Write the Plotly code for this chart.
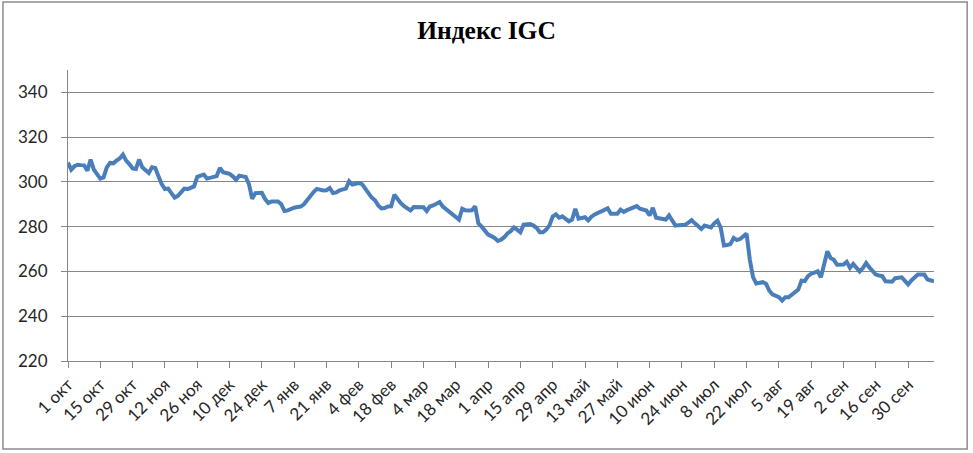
import plotly.graph_objects as go
import pandas as pd

title_text = "Индекс IGC"
start_date = "2012-10-01"
month_names = ["янв", "фев", "мар", "апр", "май", "июн",
               "июл", "авг", "сен", "окт", "ноя", "дек"]

igc_values = [
    308.7, 305.5, 307.0, 307.7, 307.5, 307.4, 305.0, 310.0, 305.5, 303.5,
    301.5, 302.0, 306.5, 308.5, 308.3, 309.5, 310.5, 312.2, 309.5, 308.0,
    306.0, 305.8, 310.0, 306.5, 305.5, 304.0, 306.5, 306.2, 302.5, 299.0,
    296.8, 297.0, 295.0, 293.0, 293.8, 295.5, 297.0, 296.8, 297.3, 298.0,
    302.3, 302.8, 303.3, 301.5, 302.0, 302.4, 302.6, 306.2, 304.3, 304.0,
    303.6, 302.5, 301.0, 302.8, 302.6, 302.2, 299.0, 292.5, 295.0, 295.1,
    295.1, 292.3, 290.6, 291.3, 291.2, 291.3, 290.0, 287.0, 287.3, 288.0,
    288.5, 288.8, 289.0, 290.0, 292.0, 293.8, 295.5, 296.9, 296.4, 296.2,
    296.3, 297.3, 295.0, 295.3, 296.2, 296.6, 297.0, 300.3, 298.8, 299.2,
    299.5, 299.0, 297.0, 294.5, 293.0, 291.8, 289.5, 288.2, 288.3, 289.0,
    289.1, 294.3, 292.0, 290.5, 289.2, 288.2, 287.3, 288.8, 288.7, 288.6,
    288.7, 287.0, 289.0, 289.5, 290.2, 291.0, 289.0, 287.8, 286.5, 285.2,
    284.0, 283.2, 288.0, 287.3, 287.2, 287.3, 289.1, 281.5, 280.0, 278.5,
    276.5, 275.8, 275.0, 273.6, 274.2, 275.3, 277.0, 278.0, 279.7, 278.7,
    277.5, 280.9, 281.0, 281.2, 280.5, 279.5, 277.5, 277.5, 278.7, 280.6,
    284.5, 285.5, 284.0, 284.6, 283.5, 282.4, 283.2, 288.0, 283.6, 284.0,
    284.2, 282.8, 284.5, 285.5, 286.2, 286.9, 287.6, 288.2, 285.8, 285.8,
    285.8, 287.6, 286.6, 287.4, 288.0, 289.0, 289.2, 288.0, 287.5, 287.2,
    285.0, 288.4, 284.0, 283.8, 283.8, 283.2, 285.0, 282.5, 280.5, 280.7,
    280.8, 280.9, 281.8, 282.9, 281.5, 280.2, 279.0, 280.5, 280.0, 279.7,
    281.5, 282.7, 279.5, 271.6, 271.8, 272.2, 275.0, 274.0, 274.5, 275.5,
    276.9, 265.3, 257.5, 254.6, 254.8, 255.2, 254.5, 251.5, 249.8, 249.0,
    248.5, 247.0, 248.5, 248.5, 249.8, 251.2, 251.9, 255.9, 255.7, 257.9,
    259.0, 259.5, 260.1, 257.4, 263.1, 269.0, 266.0, 265.2, 263.0, 263.0,
    263.1, 264.3, 261.6, 263.4, 261.5, 260.0, 261.5, 263.8, 261.8, 260.5,
    258.6, 258.2, 257.9, 255.6, 255.5, 255.4, 257.0, 257.2, 257.4, 255.8,
    254.2, 256.0, 257.5, 258.6, 258.6, 258.6, 256.4, 256.0, 255.6,
]

dates = pd.bdate_range(start_date, periods=len(igc_values))
x_cats = [d.strftime("%Y-%m-%d") for d in dates]
tick_dates = dates[::10]
tick_vals = [d.strftime("%Y-%m-%d") for d in tick_dates]
tick_text = [f"{d.day} {month_names[d.month - 1]}" for d in tick_dates]

fig = go.Figure()
fig.add_trace(go.Scatter(
    x=x_cats, y=igc_values, mode="lines",
    line=dict(color="#4A7EBB", width=4),
    hoverinfo="skip", showlegend=False,
))

axis_col = "#868686"
font_fam = "Lato, Open Sans, sans-serif"

fig.update_layout(
    width=973, height=453,
    margin=dict(l=68, r=39, t=70, b=92, autoexpand=False),
    paper_bgcolor="white", plot_bgcolor="white",
    title=dict(text=f"<b>{title_text}</b>", x=0.5, xref="container", xanchor="center",
               y=1 - 30 / 453, yref="container", yanchor="middle",
               font=dict(family="Liberation Serif, Times New Roman, serif",
                         size=25.5, color="#000000")),
    font=dict(family=font_fam, size=17, color="#262626"),
    shapes=[dict(type="rect", xref="paper", yref="paper",
                 x0=-0.0751, x1=1.0383, y0=-0.3024, y1=1.2337,
                 line=dict(color="#8c8c8c", width=1.5), layer="below")],
)

fig.update_xaxes(
    type="category", range=[0, len(igc_values) - 1], automargin=False,
    tickmode="array", tickvals=tick_vals, ticktext=tick_text,
    tickangle=-45, ticks="outside", ticklen=6, tickcolor=axis_col,
    showline=True, linecolor=axis_col, linewidth=1,
    showgrid=False, zeroline=False,
    tickfont=dict(family=font_fam, size=17, color="#262626"),
)
fig.update_yaxes(
    range=[220, 350], tick0=220, dtick=20, automargin=False,
    ticks="outside", ticklen=6, tickcolor=axis_col,
    showline=True, linecolor=axis_col, linewidth=1,
    showgrid=True, gridcolor=axis_col, gridwidth=1, zeroline=False,
    ticklabelstandoff=10,
    tickfont=dict(family=font_fam, size=17, color="#262626"),
)

fig.write_html("out.html",
               config={"displayModeBar": False},
               post_script="document.body.style.margin='0';document.body.style.overflow='hidden';")
